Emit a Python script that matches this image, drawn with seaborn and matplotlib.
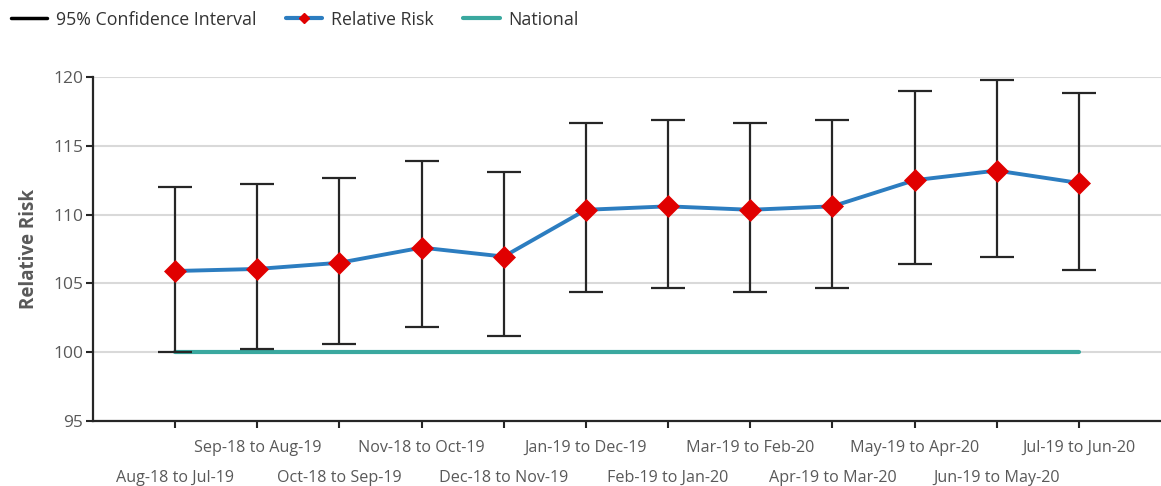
import numpy as np
import pandas as pd
import matplotlib
matplotlib.use("Agg")
import matplotlib.pyplot as plt
from matplotlib.lines import Line2D
import seaborn as sns

periods = ["Aug-18 to Jul-19", "Sep-18 to Aug-19", "Oct-18 to Sep-19", "Nov-18 to Oct-19",
           "Dec-18 to Nov-19", "Jan-19 to Dec-19", "Feb-19 to Jan-20", "Mar-19 to Feb-20",
           "Apr-19 to Mar-20", "May-19 to Apr-20", "Jun-19 to May-20", "Jul-19 to Jun-20"]
relative_risk = [105.9, 106.05, 106.5, 107.6, 106.95, 110.35, 110.6, 110.35, 110.6, 112.5, 113.2, 112.3]
ci_upper = [112.0, 112.25, 112.65, 113.9, 113.1, 116.65, 116.9, 116.65, 116.9, 119.0, 119.75, 118.85]
ci_lower = [100.0, 100.25, 100.6, 101.8, 101.15, 104.4, 104.65, 104.4, 104.65, 106.4, 106.9, 106.0]
national = [100] * 12
y_ticks = [95, 100, 105, 110, 115, 120]

sns.set_theme(style="white")
plt.rcParams['font.family'] = ['Open Sans', 'DejaVu Sans']

df = pd.DataFrame({"pos": np.arange(len(periods)), "period": periods,
                   "rr": relative_risk, "lo": ci_lower, "hi": ci_upper, "nat": national})

fig = plt.figure(figsize=(11.61, 4.86), dpi=100)
ax = fig.add_axes([93/1161, 65/486, 1068/1161, 344/486])

for y in y_ticks:
    ax.axhline(y, color="#d9d9d9", lw=1.5, zorder=0)

sns.lineplot(data=df, x="pos", y="nat", ax=ax, color="#3aa89f", lw=3, zorder=2)
ax.errorbar(df["pos"], df["rr"],
            yerr=[df["rr"] - df["lo"], df["hi"] - df["rr"]],
            fmt="none", ecolor="#262626", elinewidth=1.6, capsize=12, capthick=1.6, zorder=3)
sns.lineplot(data=df, x="pos", y="rr", ax=ax, color="#2c7dc0", lw=2.8, marker="D",
             markersize=11.5, markerfacecolor="#e00000", markeredgecolor="#e00000",
             markeredgewidth=0.5, zorder=4)

ax.set_xlim(-1, 12)
ax.set_ylim(95, 120)
ax.set_yticks(y_ticks)
ax.set_xticks(df["pos"])
ax.set_xticklabels(periods)
for i, t in enumerate(ax.xaxis.get_major_ticks()):
    t.set_pad(8.5 if i % 2 == 1 else 30)
ax.tick_params(axis="x", length=5, width=1.5, color="#262626", labelsize=11.6, labelcolor="#595959")
ax.tick_params(axis="y", length=5, width=1.5, color="#262626", labelsize=12.5, labelcolor="#595959", pad=2)
ax.yaxis.set_ticks_position("left")
ax.xaxis.set_ticks_position("bottom")
for s in ["top", "right"]:
    ax.spines[s].set_visible(False)
for s in ["left", "bottom"]:
    ax.spines[s].set_color("#262626")
    ax.spines[s].set_linewidth(1.6)
ax.set_xlabel("")
ax.set_ylabel("Relative Risk", fontsize=13.5, fontweight="bold", color="#595959", labelpad=10)

handles = [Line2D([], [], color="black", lw=2.5),
           Line2D([], [], color="#2c7dc0", lw=3, marker="D", markersize=5,
                  markerfacecolor="#e00000", markeredgecolor="#e00000"),
           Line2D([], [], color="#3aa89f", lw=3)]
leg = fig.legend(handles, ["95% Confidence Interval", "Relative Risk", "National"],
                 loc="upper left", bbox_to_anchor=(0.0, 1.0), ncol=3, frameon=False,
                 fontsize=12.8, handlelength=2.05, handletextpad=0.5, columnspacing=1.65,
                 borderaxespad=0.25, borderpad=0.35)
for t in leg.get_texts():
    t.set_color("#333333")

fig.savefig("out.png", dpi=100)
